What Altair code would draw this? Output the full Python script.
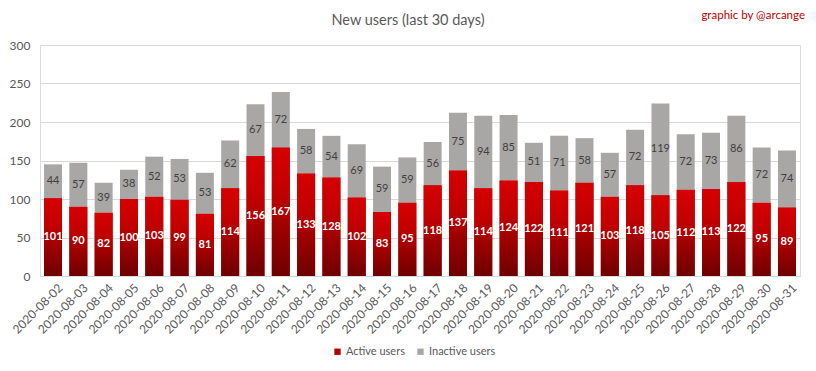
import altair as alt
import pandas as pd

dates = [f"2020-08-{d:02d}" for d in range(2, 32)]
active = [101, 90, 82, 100, 103, 99, 81, 114, 156, 167, 133, 128, 102, 83, 95,
          118, 137, 114, 124, 122, 111, 121, 103, 118, 105, 112, 113, 122, 95, 89]
inactive = [44, 57, 39, 38, 52, 53, 53, 62, 67, 72, 58, 54, 69, 59, 59,
            56, 75, 94, 85, 51, 71, 58, 57, 72, 119, 72, 73, 86, 72, 74]
series_names = ["Active users", "Inactive users"]
y_ticks = [0, 50, 100, 150, 200, 250, 300]
title_text = "New users (last 30 days)"
credit_text = "graphic by @arcange"

rows = []
for d, a, i in zip(dates, active, inactive):
    rows.append({"date": d, "series": series_names[0], "value": a, "y0": 0, "y1": a, "mid": a / 2})
    rows.append({"date": d, "series": series_names[1], "value": i, "y0": a, "y1": a + i, "mid": a + i / 2})
df = pd.DataFrame(rows)

FONT = "Lato"
TXT = "#595959"

x_axis = alt.Axis(labelAngle=-45, labelAlign="right", labelBaseline="top",
                  labelFontSize=12, labelColor=TXT, labelFont=FONT,
                  ticks=False, domainColor="#D9D9D9", labelPadding=6, labelOffset=4,
                  labelOverlap=False)
x_scale = alt.Scale(paddingInner=0.29, paddingOuter=0.16)
y_scale = alt.Scale(domain=[0, 300], nice=False)
y_axis = alt.Axis(values=y_ticks, labelFontSize=12,
                  labelColor=TXT, labelFont=FONT, domain=False, ticks=False,
                  gridColor="#D9D9D9", labelPadding=10, title=None, labelOverlap=False)


def xe():
    return alt.X("date:N", sort=dates, title=None, scale=x_scale, axis=x_axis)


def ye(field):
    return alt.Y(field, scale=y_scale, axis=y_axis)


base = alt.Chart(df)

bars = base.mark_bar().encode(
    x=xe(),
    y=ye("y1:Q"),
    y2="y0:Q",
    color=alt.Color("series:N", scale=alt.Scale(domain=series_names, range=["#B00000", "#A9A6A6"]),
                    legend=alt.Legend(title=None, orient="none", direction="horizontal",
                                      legendX=292, legendY=301, symbolType="square",
                                      symbolSize=40, labelFontSize=11, labelColor=TXT,
                                      labelFont=FONT, columnPadding=10, labelOffset=3,
                                      symbolStrokeWidth=0)),
)

red_bars = base.transform_filter(alt.datum.series == series_names[0]).mark_bar(
    color={"gradient": "linear", "x1": 0, "y1": 0, "x2": 0, "y2": 1,
           "stops": [{"offset": 0, "color": "#D60000"},
                     {"offset": 0.35, "color": "#C20000"},
                     {"offset": 1, "color": "#6E0000"}]}
).encode(x=xe(), y=ye("y1:Q"), y2="y0:Q")

labels_active = base.transform_filter(alt.datum.series == series_names[0]).mark_text(
    color="white", fontWeight="bold", fontSize=11, font=FONT, baseline="middle"
).encode(x=xe(), y=ye("mid:Q"), text="value:Q")

labels_inactive = base.transform_filter(alt.datum.series == series_names[1]).mark_text(
    color="#404040", fontSize=11, font=FONT, baseline="middle"
).encode(x=xe(), y=ye("mid:Q"), text="value:Q")

title_mark = alt.Chart(pd.DataFrame({"t": [title_text]})).mark_text(
    color=TXT, fontSize=14.5, font=FONT, align="center", baseline="middle"
).encode(x=alt.value(368), y=alt.value(-24), text="t:N")

credit = alt.Chart(pd.DataFrame({"t": [credit_text]})).mark_text(
    color="#C00000", fontSize=11.5, font=FONT, align="right", baseline="middle"
).encode(x=alt.value(765), y=alt.value(-29), text="t:N")

chart = alt.layer(bars, red_bars, labels_active, labels_inactive, title_mark, credit).properties(
    width=760, height=231,
    autosize=alt.AutoSizeParams(type="none"),
    padding={"left": 32, "top": 37, "right": 8, "bottom": 85},
).configure_view(stroke=None).configure(background="white")

chart.save("out.html", embed_options={"renderer": "svg", "actions": False})
